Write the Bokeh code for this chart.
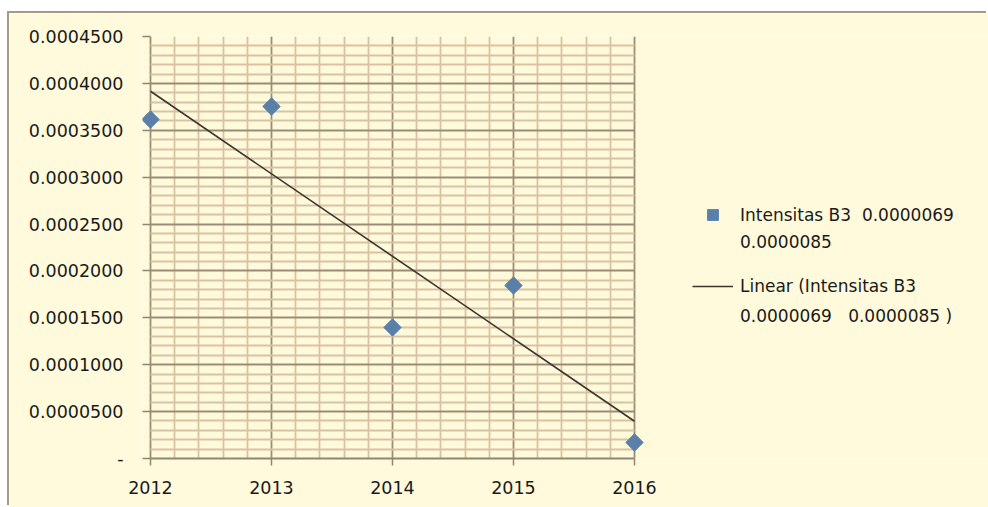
import numpy as np
from bokeh.plotting import figure
from bokeh.models import FixedTicker, Legend, LegendItem, Range1d, NumeralTickFormatter
from bokeh.embed import file_html
from bokeh.resources import INLINE

# ---- data ----
years = [2012, 2013, 2014, 2015, 2016]
intensitas = [0.0003615, 0.0003754, 0.0001397, 0.0001845, 0.0000171]
y_ticks = [0.0, 0.00005, 0.0001, 0.00015, 0.0002, 0.00025, 0.0003, 0.00035, 0.0004, 0.00045]
y_tick_labels = ["-", "0.0000500", "0.0001000", "0.0001500", "0.0002000",
                 "0.0002500", "0.0003000", "0.0003500", "0.0004000", "0.0004500"]
x_tick_labels = ["2012", "2013", "2014", "2015", "2016"]
legend_scatter_lines = ["Intensitas B3  0.0000069", "0.0000085"]
legend_trend_lines = ["Linear (Intensitas B3", "0.0000069   0.0000085 )"]

# linear trend line (least squares fit of the series)
slope, intercept = np.polyfit(years, intensitas, 1)
trend_x = [years[0], years[-1]]
trend_y = [slope * x + intercept for x in trend_x]

BG = "#FFFADC"
MAJOR = "#9C8C76"
MINOR = "#D9C2A2"
AXIS = "#928571"
FONT = "DejaVu Sans"

px_per_year = 121.0
x_start = years[0] - 8 / px_per_year
x_end = years[-1] + 354 / px_per_year   # frame runs to the right edge (legend area)

p = figure(width=979, height=494, output_backend="svg", toolbar_location=None,
           x_range=Range1d(x_start, x_end), y_range=Range1d(y_ticks[0], y_ticks[-1]),
           min_border_left=133, min_border_right=0, min_border_top=23, min_border_bottom=49,
           background_fill_color=BG, border_fill_color=BG, outline_line_color=None)
p.margin = (13, 0, 0, 9)
p.styles = {"box-shadow": "-2px -2px 0 0 #A39B89"}

minor_x = [y + k / 5 for y in years[:-1] for k in range(1, 5)]
minor_y = [t + k * 0.00001 for t in y_ticks[:-1] for k in range(1, 5)]

p.xaxis.ticker = FixedTicker(ticks=years, minor_ticks=minor_x)
p.yaxis.ticker = FixedTicker(ticks=y_ticks, minor_ticks=minor_y)
p.xaxis.major_label_overrides = {y: s for y, s in zip(years, x_tick_labels)}
p.yaxis.major_label_overrides = {t: s for t, s in zip(y_ticks, y_tick_labels)}
p.yaxis.formatter = NumeralTickFormatter(format="0.0000000")
p.xaxis.bounds = (years[0], years[-1])

for ax in (p.xaxis, p.yaxis):
    ax.axis_line_color = AXIS
    ax.axis_line_width = 1.8
    ax.major_tick_line_color = AXIS
    ax.major_tick_line_width = 1.5
    ax.minor_tick_line_color = None
    ax.major_label_text_font = FONT
    ax.major_label_text_font_size = "17.5px"
    ax.major_label_text_color = "#1A1A1A"
p.xaxis.major_tick_in = 0
p.xaxis.major_tick_out = 7
p.xaxis.major_label_standoff = 15
# y axis sits at the frame edge; ticks reach in to the 2012 gridline
p.yaxis.axis_line_color = None
p.yaxis.major_tick_in = 8
p.yaxis.major_tick_out = 0
p.yaxis.major_label_standoff = 15

p.xgrid.ticker = p.xaxis.ticker
p.ygrid.ticker = p.yaxis.ticker
p.xgrid.bounds = (years[0], years[-1])
p.ygrid.bounds = (y_ticks[0], y_ticks[-1])
p.xgrid.cross_bounds = (y_ticks[0], y_ticks[-1])
p.ygrid.cross_bounds = (years[0], years[-1])
for g in (p.xgrid, p.ygrid):
    g.grid_line_color = MAJOR
    g.grid_line_width = 1.8
    g.minor_grid_line_color = MINOR
    g.minor_grid_line_width = 1.8
    g.level = "underlay"

ln = p.line(trend_x, trend_y, line_color="#3B3530", line_width=1.6)
sc = p.scatter(years, intensitas, marker="square", angle=np.pi / 4, size=12.3,
               fill_color="#5A80AA", line_color="#5A80AA")
# invisible glyph used for the wrapped second line of each legend entry
blank = p.scatter(x=[], y=[], size=0, fill_alpha=0, line_alpha=0)

common = dict(padding=0, margin=0, border_line_color=None, background_fill_alpha=0,
              glyph_width=41, label_standoff=7, label_text_font=FONT,
              label_text_font_size="17px", label_text_color="#1A1A1A")

legend_a = Legend(items=[LegendItem(label=legend_scatter_lines[0], renderers=[sc]),
                         LegendItem(label=legend_scatter_lines[1], renderers=[blank])],
                  location=(550, 203), glyph_height=27, spacing=0, **common)
legend_b = Legend(items=[LegendItem(label=legend_trend_lines[0], renderers=[ln]),
                         LegendItem(label=legend_trend_lines[1], renderers=[blank])],
                  location=(550, 132), glyph_height=20, spacing=10, **common)
p.add_layout(legend_a)
p.add_layout(legend_b)

open("out.html", "w").write(file_html(p, INLINE))
